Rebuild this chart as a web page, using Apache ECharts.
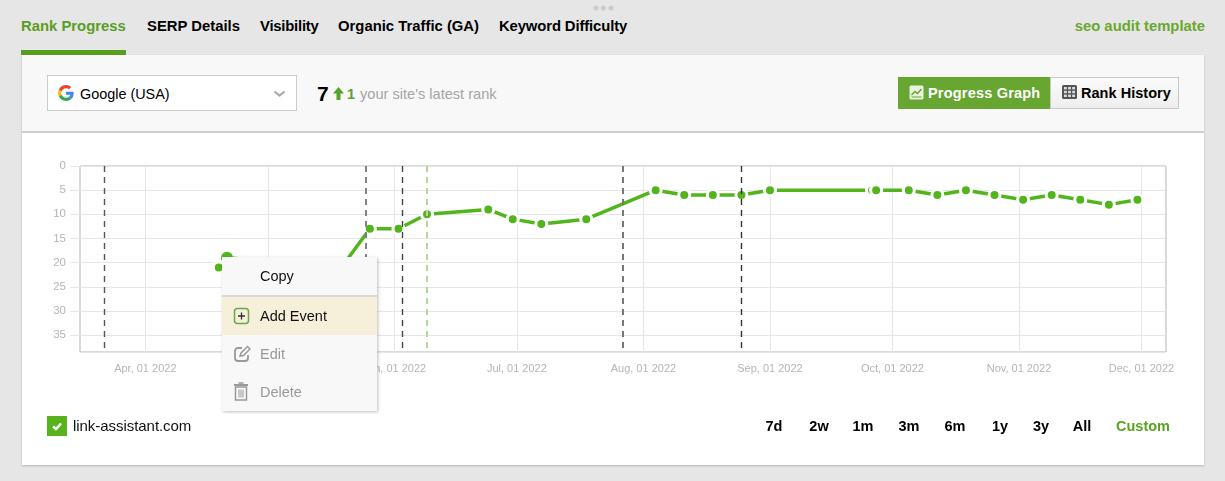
<!DOCTYPE html>
<html><head><meta charset="utf-8">
<script src="https://cdn.jsdelivr.net/npm/echarts@6/dist/echarts.min.js"></script>
<style>
html,body{margin:0;padding:0;width:1225px;height:481px;overflow:hidden;background:#e6e6e6;font-family:"Liberation Sans",Arial,sans-serif}
.a{position:absolute;white-space:nowrap}
.t{font-weight:bold;font-size:14.5px;color:#000;line-height:20px}
.n{font-size:14.85px}
.c{transform:translateX(-50%)}
#panel{left:22px;top:55px;width:1182px;height:410px;background:#fff;box-shadow:0 1px 2px rgba(0,0,0,.2)}
#head{left:22px;top:55px;width:1182px;height:76px;background:#f8f8f8;border-bottom:2px solid #cfcfcf}
#chart{left:0;top:0;width:1225px;height:481px}
.row{left:222px;width:155px;height:38px;line-height:38px;font-size:14.5px}
.row span{position:absolute;left:38px}
.row svg{position:absolute;left:11px;top:9px}
</style></head><body>
<div class="a" id="panel"></div>
<div class="a" id="head"></div>
<div class="a" style="left:593px;top:5px;font-size:0">
<svg width="22" height="6"><circle cx="3" cy="3" r="2.5" fill="#ccc"/><circle cx="10.5" cy="3" r="2.5" fill="#ccc"/><circle cx="18" cy="3" r="2.5" fill="#ccc"/></svg></div>
<div class="a t n" style="left:21px;top:16px;color:#5a9e1f">Rank Progress</div>
<div class="a" style="left:21px;top:50px;width:105px;height:5px;background:#5a9e1f"></div>
<div class="a t n" style="left:147px;top:16px">SERP Details</div>
<div class="a t n" style="left:260px;top:16px;letter-spacing:-.22px">Visibility</div>
<div class="a t n" style="left:338px;top:16px">Organic Traffic (GA)</div>
<div class="a t n" style="left:499px;top:16px;letter-spacing:-.12px">Keyword Difficulty</div>
<div class="a t n" style="right:20px;top:16px;color:#6aa82f">seo audit template</div>

<div class="a" style="left:47px;top:75px;width:248px;height:34px;background:#fff;border:1px solid #ccc"></div>
<svg class="a" style="left:58px;top:85px" width="16" height="16" viewBox="0 0 48 48"><path fill="#EA4335" d="M24 9.5c3.5 0 6.700 1.300 9.100 3.500l6.800-6.800C35.900 2.400 30.300 0 24 0 14.600 0 6.500 5.400 2.600 13.200l7.900 6.200C12.400 13.700 17.700 9.500 24 9.500z"/><path fill="#4285F4" d="M47 24.500c0-1.600-.2-3.200-.4-4.500H24v9h12.900c-.6 3-2.200 5.500-4.800 7.200l7.700 6C44.300 38 47 31.800 47 24.500z"/><path fill="#FBBC05" d="M10.500 28.600C10 27.200 9.700 25.600 9.700 24s.3-3.200.8-4.600l-7.900-6.200C1 16.400 0 20.100 0 24s1 7.600 2.600 10.800z"/><path fill="#34A853" d="M24 48c6.500 0 11.900-2.100 15.800-5.800l-7.700-6c-2.100 1.400-4.900 2.300-8.100 2.300-6.300 0-11.600-4.200-13.500-9.900l-7.900 6.200C6.500 42.600 14.600 48 24 48z"/></svg>
<div class="a" style="left:80px;top:84px;font-size:14.4px;line-height:20px;color:#000">Google (USA)</div>
<svg class="a" style="left:273px;top:90px" width="13" height="8"><path d="M1.500 1.500L6.500 5.500L11.500 1.500" fill="none" stroke="#aaa" stroke-width="2.200"/></svg>
<div class="a" style="left:317px;top:81px;font-size:21px;font-weight:bold;line-height:26px;color:#000">7</div>
<svg class="a" style="left:332px;top:86px" width="13" height="15"><path d="M6.500 1L12 7.500H8.500V14H4.500V7.500H1z" fill="#5aa02c"/></svg>
<div class="a" style="left:347px;top:84px;font-size:14.500px;font-weight:bold;line-height:20px;color:#5aa02c">1</div>
<div class="a" style="left:360px;top:84px;font-size:14.600px;line-height:20px;color:#a5a5a5">your site's latest rank</div>

<div class="a" style="left:898px;top:77px;width:152px;height:32px;background:#67a630"></div>
<svg class="a" style="left:909px;top:85px" width="15" height="15"><rect x=".5" y=".5" width="14" height="14" rx="1.500" fill="#e8f2de"/><path d="M2.500 10L6 6.500L8.500 8.500L12.500 4" fill="none" stroke="#67a630" stroke-width="1.500"/><path d="M2.500 12H12.500" stroke="#67a630" stroke-width="1"/></svg>
<div class="a t" style="left:928px;top:83px;color:#fff;letter-spacing:.2px">Progress Graph</div>
<div class="a" style="left:1050px;top:77px;width:127px;height:30px;border:1px solid #c8c8c8;background:linear-gradient(#fbfbfb,#eeeeee)"></div>
<svg class="a" style="left:1062px;top:85px" width="15" height="14"><rect width="15" height="14" rx="1.500" fill="#555"/><g fill="#ddd"><rect x="2" y="2" width="2.800" height="2.400"/><rect x="6.100" y="2" width="2.800" height="2.400"/><rect x="10.200" y="2" width="2.800" height="2.400"/><rect x="2" y="5.800" width="2.800" height="2.400"/><rect x="6.100" y="5.800" width="2.800" height="2.400"/><rect x="10.200" y="5.800" width="2.800" height="2.400"/><rect x="2" y="9.600" width="2.800" height="2.400"/><rect x="6.100" y="9.600" width="2.800" height="2.400"/><rect x="10.200" y="9.600" width="2.800" height="2.400"/></g></svg>
<div class="a t" style="left:1081px;top:83px;letter-spacing:.03px">Rank History</div>

<div class="a" id="chart"></div>

<div class="a" style="left:47px;top:416px;width:20px;height:20px;background:#57b21e"></div>
<svg class="a" style="left:51px;top:420px" width="12" height="12"><path d="M2 6.500L5 9L10 3.500" fill="none" stroke="#fff" stroke-width="2.400"/></svg>
<div class="a" style="left:73px;top:416px;font-size:15px;line-height:20px;color:#111;letter-spacing:-.05px">link-assistant.com</div>
<div class="a t c" style="left:774px;top:416px">7d</div>
<div class="a t c" style="left:819px;top:416px">2w</div>
<div class="a t c" style="left:863px;top:416px">1m</div>
<div class="a t c" style="left:909px;top:416px">3m</div>
<div class="a t c" style="left:955px;top:416px">6m</div>
<div class="a t c" style="left:1000px;top:416px">1y</div>
<div class="a t c" style="left:1041px;top:416px">3y</div>
<div class="a t c" style="left:1082px;top:416px">All</div>
<div class="a t c" style="left:1143px;top:416px;color:#57a51f">Custom</div>

<div class="a" style="left:222px;top:257px;width:155px;height:154px;background:#f8f8f8;box-shadow:1px 1px 3px rgba(0,0,0,.25)"></div>
<div class="a row" style="top:257px;color:#111"><span>Copy</span></div>
<div class="a" style="left:222px;top:295px;width:155px;height:2px;background:#d8d8d8"></div>
<div class="a row" style="top:297px;background:#f6efd9;color:#111">
<svg width="18" height="18" style="top:10px"><rect x="1.500" y="1.500" width="14" height="15" rx="3" fill="none" stroke="#6aa84f" stroke-width="1.500"/><path d="M5 9H12M8.500 5.500V12.500" stroke="#333" stroke-width="1.300"/></svg><span>Add Event</span></div>
<div class="a row" style="top:335px;color:#999">
<svg width="18" height="18" style="top:10px"><path d="M9 3H5a3 3 0 0 0-3 3v7a3 3 0 0 0 3 3h7a3 3 0 0 0 3-3V10" fill="none" stroke="#999" stroke-width="1.800"/><path d="M7 11L8 8L14.500 1.500L17 4L10.500 10.500z" fill="none" stroke="#999" stroke-width="1.500"/></svg><span>Edit</span></div>
<div class="a row" style="top:373px;color:#999">
<svg width="18" height="20"><path d="M1 3H15" stroke="#999" stroke-width="2"/><path d="M5.500 1H10.500" stroke="#999" stroke-width="1.500"/><rect x="2.500" y="5" width="11" height="13" fill="none" stroke="#999" stroke-width="1.500"/><path d="M6 7.500V15.500M8 7.500V15.500M10 7.500V15.500" stroke="#999" stroke-width="1"/></svg><span>Delete</span></div>

<script>
const dates = ['2022-04-19','2022-04-21','2022-05-19','2022-05-26','2022-06-02','2022-06-09','2022-06-24','2022-06-30','2022-07-07','2022-07-18','2022-08-04','2022-08-11','2022-08-18','2022-08-25','2022-09-01','2022-09-26','2022-09-27','2022-10-05','2022-10-12','2022-10-19','2022-10-26','2022-11-02','2022-11-09','2022-11-16','2022-11-23','2022-11-30'];
const ranks = [21,19,21,13,13,10,9,11,12,11,5,6,6,6,5,5,5,5,6,5,6,7,6,7,8,7];
const hoveredDate = '2022-04-21';
const eventDates = ['2022-03-22','2022-05-25','2022-06-03','2022-06-09','2022-07-27','2022-08-25'];
const eventColors = ['#555','#777','#444','#b5d69c','#777','#333'];
const eventWidths = [1.4,1.8,1.4,2,2,1.4];
const tickDates = ['2022-04-01','2022-05-01','2022-06-01','2022-07-01','2022-08-01','2022-09-01','2022-10-01','2022-11-01','2022-12-01'];
const tickLabels = ['Apr, 01 2022','May, 01 2022','Jun, 01 2022','Jul, 01 2022','Aug, 01 2022','Sep, 01 2022','Oct, 01 2022','Nov, 01 2022','Dec, 01 2022'];
const ms = s => new Date(s + 'T00:00:00').getTime();
const tickMs = tickDates.map(ms);
const chart = echarts.init(document.getElementById('chart'), null, {width:1225, height:481});
chart.setOption({
  animation:false,
  backgroundColor:'transparent',
  grid:{left:80, right:59, top:166, bottom:129, show:true, borderColor:'#b5b5b5', borderWidth:1, backgroundColor:'transparent'},
  xAxis:{type:'value', scale:true, min:ms('2022-03-16'), max:ms('2022-12-07'),
    axisLine:{show:false},
    axisTick:{show:true, length:0, customValues:tickMs},
    splitLine:{show:true, lineStyle:{color:'#e6e6e6', width:1}},
    axisLabel:{customValues:tickMs, margin:11, color:'#b5b5b5', fontSize:11, fontFamily:'Liberation Sans', hideOverlap:false,
      formatter:v => { const i = tickMs.indexOf(+v); return i < 0 ? '' : tickLabels[i]; }}},
  yAxis:{type:'value', inverse:true, min:0, max:38.5, interval:5,
    axisLine:{show:false},
    axisTick:{show:true, length:10, lineStyle:{color:'#e6e6e6'}},
    splitLine:{show:true, lineStyle:{color:'#e6e6e6', width:1}},
    axisLabel:{margin:14, padding:[3,0,0,0], color:'#b5b5b5', fontSize:11.5, fontFamily:'Liberation Sans', showMaxLabel:false}},
  series:[{type:'line', clip:false,
    data:dates.map((d,i)=> d===hoveredDate
      ? {value:[ms(d),ranks[i]], symbolSize:12, itemStyle:{borderWidth:0}}
      : {value:[ms(d),ranks[i]]}),
    symbol:'circle', symbolSize:11, showAllSymbol:true,
    lineStyle:{color:'#52b51c', width:3.5},
    itemStyle:{color:'#52b51c', borderColor:'#fff', borderWidth:3},
    markLine:{silent:true, symbol:'none', label:{show:false},
      data:eventDates.map((d,i)=>({xAxis:ms(d), lineStyle:{color:eventColors[i], type:[6,5], width:eventWidths[i]}}))}
  }]
});
</script>
</body></html>
